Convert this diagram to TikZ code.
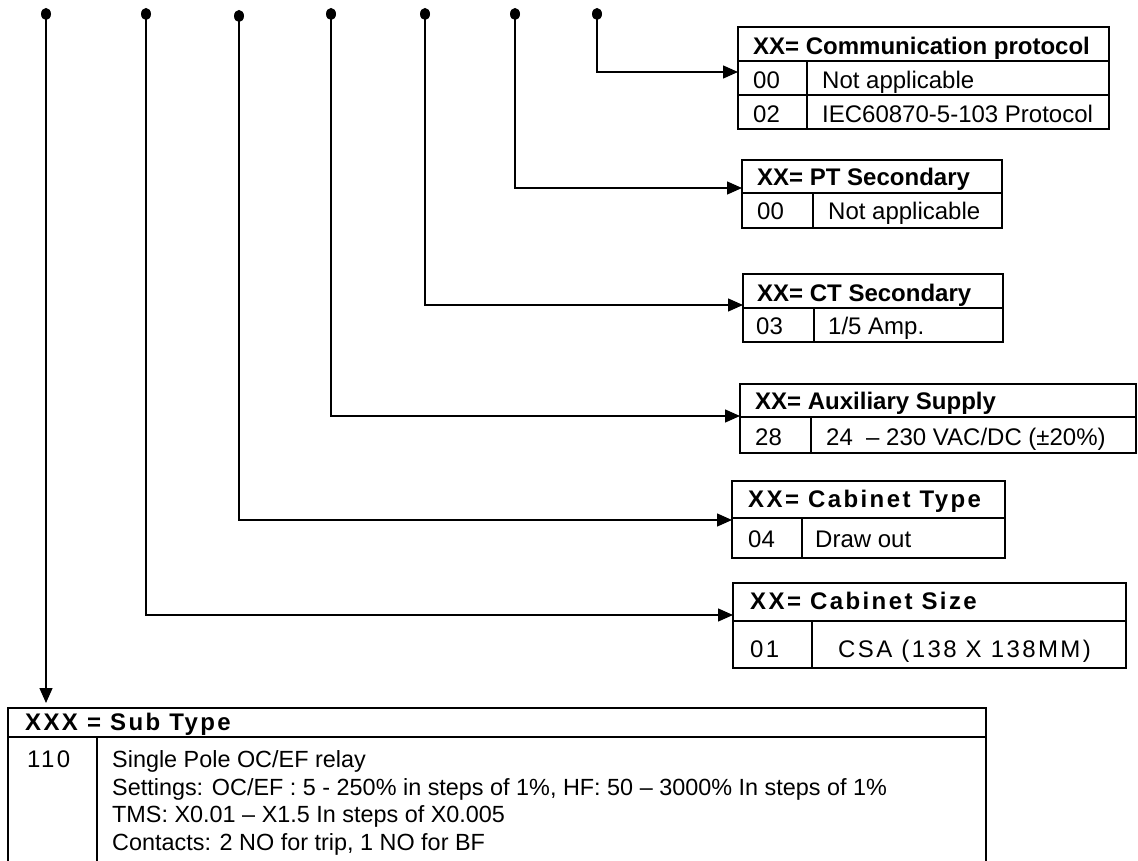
\documentclass[tikz,border=0pt]{standalone}
\usepackage{fontspec}
\setmainfont{Liberation Sans}
\newfontfamily\spacedfont[LetterSpace=10]{Liberation Sans}
\usetikzlibrary{arrows.meta,calc,shapes.geometric}
\newcommand\bodyfont{\fontsize{24}{27.7}\selectfont}
\newcommand\smallbodyfont{\fontsize{23.4}{27.7}\selectfont}
\tikzset{
  cellbox/.style={draw, line width=1.6pt, rectangle, inner sep=0pt, outer sep=0pt, anchor=north west},
  txt/.style={anchor=base west, inner sep=0pt, font=\bodyfont},
  ltxt/.style={anchor=base west, inner sep=0pt, font=\smallbodyfont},
  hd/.style={anchor=base west, inner sep=0pt, font=\bodyfont\bfseries},
  shd/.style={anchor=base west, inner sep=0pt, font=\bodyfont\spacedfont\bfseries},
  stxt/.style={anchor=base west, inner sep=0pt, font=\bodyfont\spacedfont},
  pin/.style={ellipse, fill=black, draw=none, minimum width=10pt, minimum height=12pt, inner sep=0pt},
  conn/.style={line width=1.4pt},
  arr/.style={conn, -{Triangle[length=15pt,width=13pt]}},
}
\newcommand\cellnode[5]{\node[cellbox, minimum width={#4-#2}, minimum height={#5-#3}] (#1) at (#2,#3) {};}
\begin{document}
\begin{tikzpicture}[x=1pt,y=-1pt]
\useasboundingbox (0,0) rectangle (1138,861);
\clip (0,0) rectangle (1138,861);
\fill[white] (0,0) rectangle (1138,861);

% pins
\node[pin] (d1) at (46,14) {};
\node[pin] (d2) at (146,14) {};
\node[pin] (d3) at (239,16) {};
\node[pin] (d4) at (331,14) {};
\node[pin] (d5) at (425,14) {};
\node[pin] (d6) at (515,14) {};
\node[pin] (d7) at (597,14) {};

% Box 1: Communication protocol
\cellnode{b1h}{738}{27}{1109}{61}
\cellnode{b1a}{738}{61}{807}{95}
\cellnode{b1b}{807}{61}{1109}{95}
\cellnode{b1c}{738}{95}{807}{129}
\cellnode{b1d}{807}{95}{1109}{129}
\node[hd] (b1ht) at (753,55) {XX= Communication protocol};
\node[txt] (b1at) at (753,89) {00};
\node[txt] (b1bt) at (822,89) {Not applicable};
\node[txt] (b1ct) at (753,123) {02};
\node[txt] (b1dt) at (822,123) {IEC60870-5-103 Protocol};

% Box 2: PT Secondary
\cellnode{b2h}{742}{160}{1002}{193}
\cellnode{b2a}{742}{193}{813}{228}
\cellnode{b2b}{813}{193}{1002}{228}
\node[hd] (b2ht) at (757,186) {XX= PT Secondary};
\node[txt] (b2at) at (757,220) {00};
\node[txt] (b2bt) at (828,220) {Not applicable};

% Box 3: CT Secondary
\cellnode{b3h}{743}{274}{1003}{308}
\cellnode{b3a}{743}{308}{814}{342}
\cellnode{b3b}{814}{308}{1003}{342}
\node[hd] (b3ht) at (757,301) {XX= CT Secondary};
\node[txt] (b3at) at (756,334) {03};
\node[txt] (b3bt) at (828,334) {1/5 Amp.};

% Box 4: Auxiliary Supply
\cellnode{b4h}{740}{384}{1136}{417}
\cellnode{b4a}{740}{417}{811}{453}
\cellnode{b4b}{811}{417}{1136}{453}
\node[hd] (b4ht) at (755,409) {XX= Auxiliary Supply};
\node[txt] (b4at) at (755,445) {28};
\node[txt] (b4bt) at (826,445) {24\ \ – 230 VAC/DC (±20\%)};

% Box 5: Cabinet Type
\cellnode{b5h}{732}{481}{1005}{518}
\cellnode{b5a}{732}{518}{802}{558}
\cellnode{b5b}{802}{518}{1005}{558}
\node[shd] (b5ht) at (748,507) {XX= Cabinet Type};
\node[txt] (b5at) at (748,547) {04};
\node[txt] (b5bt) at (815,547) {Draw out};

% Box 6: Cabinet Size
\cellnode{b6h}{733}{583}{1126}{621}
\cellnode{b6a}{733}{621}{812}{668}
\cellnode{b6b}{812}{621}{1126}{668}
\node[shd] (b6ht) at (750,609) {XX= Cabinet Size};
\node[stxt] (b6at) at (750,657) {01};
\node[stxt] (b6bt) at (838,657) {CSA (138 X 138MM)};

% Bottom table: Sub Type
\cellnode{sh}{8}{708}{986}{737}
\cellnode{sa}{8}{737}{97}{900}
\cellnode{sb}{97}{737}{986}{900}
\node[shd] (sht) at (25,730) {XXX = Sub Type};
\node[stxt] (sat) at (27,767) {110};
\node[ltxt] (sb1) at (112,767) {Single Pole OC/EF relay};
\node[ltxt] (sb2) at (112,795) {Settings: OC/EF : 5 - 250\% in steps of 1\%, HF: 50 – 3000\% In steps of 1\%};
\node[ltxt] (sb3) at (112,822) {TMS: X0.01 – X1.5 In steps of X0.005};
\node[ltxt] (sb4) at (112,850) {Contacts: 2 NO for trip, 1 NO for BF};

% connectors
\draw[arr] (d7.center) |- ($(b1h.south west)+(0,11)$);
\draw[arr] (d6.center) |- ($(b2h.south west)+(0,-5)$);
\draw[arr] (d5.center) |- ($(b3h.south west)+(0,-3)$);
\draw[arr] (d4.center) |- ($(b4h.south west)+(0,-1)$);
\draw[arr] (d3.center) |- ($(b5h.south west)+(0,2)$);
\draw[arr] (d2.center) |- ($(b6h.south west)+(0,-6)$);
\draw[arr] (d1.center) -- ($(d1 |- sh.north)+(0,-5)$);
\end{tikzpicture}
\end{document}
